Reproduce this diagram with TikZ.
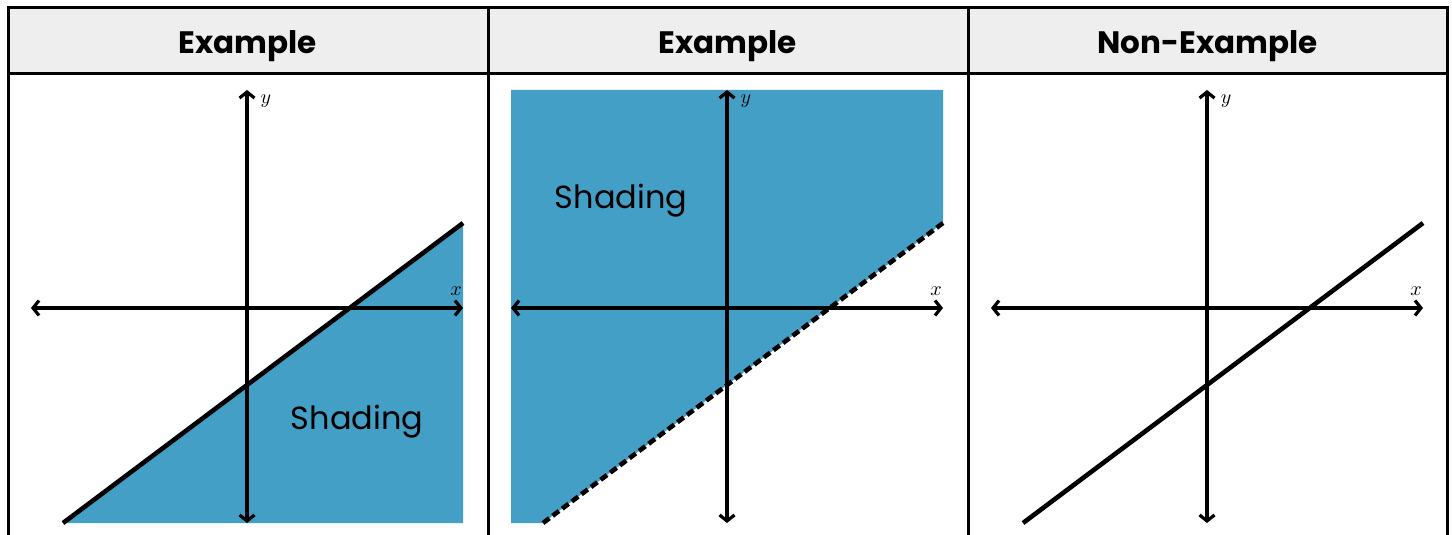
\documentclass[tikz,border=0pt]{standalone}
\usepackage{fontspec}
\newfontfamily\panelfont{Poppins}
\usetikzlibrary{calc}
\usetikzlibrary{arrows.meta}
\definecolor{shadeblue}{RGB}{67,159,198}
\definecolor{headgray}{RGB}{238,238,238}
\tikzset{
  rule/.style={black, line width=1.5pt},
  axis/.style={black, line width=1.6pt, {Straight Barb[length=3pt,width=7.5pt]}-{Straight Barb[length=3pt,width=7.5pt]}},
  bound/.style={black, line width=2.3pt},
  headtext/.style={font=\panelfont\bfseries\fontsize{15.5}{18}\selectfont, inner sep=0pt},
  shadetext/.style={font=\panelfont\fontsize{16}{19}\selectfont, inner sep=0pt},
  axlabel/.style={font=\fontsize{10}{11}\selectfont, inner sep=0pt}
}

\begin{document}
\begin{tikzpicture}[x=0.5pt,y=-0.5pt]
\useasboundingbox (0,0) rectangle (1452,535);
\fill[headgray] (8,8) rectangle (1447.5,73.5);

% shaded regions
\fill[shadeblue] (63,523) -- (463,223) -- (463,523) -- cycle;
\fill[shadeblue] (511,90) -- (943,90) -- (943,223) -- (543,523) -- (511,523) -- cycle;

% axes
\foreach \ox/\p in {247/a,727/b,1207/c}{
  \coordinate (west\p) at (\ox-216,308);
  \coordinate (east\p) at (\ox+216,308);
  \coordinate (top\p) at (\ox,90);
  \coordinate (bot\p) at (\ox,523);
  \draw[axis] (west\p) -- (east\p);
  \draw[axis] (top\p) -- (bot\p);
  \node[axlabel] (xlab\p) at (\ox+209,291) {$x$};
  \node[axlabel] (ylab\p) at (\ox+19,101) {$y$};
  \coordinate (lo\p) at (\ox-184,523);
  \coordinate (hi\p) at (\ox+216,223);
}

% boundary lines
\draw[bound] (loa) -- (hia);
\draw[bound, dash pattern=on 4pt off 2pt] (lob) -- (hib);
\draw[bound] (loc) -- (hic);

\node[shadetext] (shadea) at (357,422) {Shading};
\node[shadetext] (shadeb) at (621,201) {Shading};

% table
\draw[rule] (8,535) -- (8,8) -- (1447.5,8) -- (1447.5,535);
\draw[rule] (8,73.5) -- (1447.5,73.5);
\foreach \x in {488,968} \draw[rule] (\x,8) -- (\x,535);

\node[headtext] (heada) at (248,46) {Example};
\node[headtext] (headb) at (728,46) {Example};
\node[headtext] (headc) at (1207.5,46) {Non-Example};
\end{tikzpicture}
\end{document}
